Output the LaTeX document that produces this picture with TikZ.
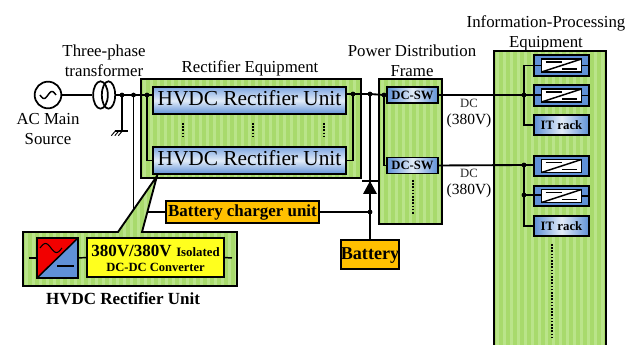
\documentclass[tikz,border=0pt]{standalone}
\usepackage{fontspec}
\usetikzlibrary{shapes.geometric}
\setmainfont{Liberation Serif}
\definecolor{stripeA}{RGB}{168,218,108}
\definecolor{stripeB}{RGB}{186,228,138}
\definecolor{bluemid}{RGB}{96,145,215}
\definecolor{bluetop}{RGB}{125,165,225}
\definecolor{bluepale}{RGB}{226,236,248}
\definecolor{orangebox}{RGB}{255,192,0}
\definecolor{yellowbox}{RGB}{255,255,30}
\newcommand{\lowtext}[2]{\raisebox{#1}[0pt][0pt]{#2}}
\tikzset{
  wire/.style={draw=black,line width=1.4pt},
  thinwire/.style={draw=black,line width=1.1pt},
  edgebox/.style={draw=black,line width=1.4pt,inner sep=0pt,outer sep=0pt,rectangle},
  striped/.style={edgebox,fill=stripeA,path picture={
    \foreach \i in {0,...,60}{
      \fill[stripeB] ([xshift=\i*5.25pt+1.2pt]path picture bounding box.south west) rectangle ++(2.6pt,400pt);
    }}},
  unitbox/.style={edgebox,top color=bluetop,bottom color=bluemid,middle color=bluepale},
  swbox/.style={edgebox,left color=bluemid,right color=bluemid,middle color=bluepale,font=\fontsize{9.5}{11}\selectfont\bfseries},
  orange/.style={edgebox,fill=orangebox,font=\fontsize{12.7}{15}\selectfont\bfseries},
  label/.style={inner sep=0pt,align=center,font=\fontsize{12.6}{15}\selectfont},
  small/.style={inner sep=0pt,font=\fontsize{9.5}{11}\selectfont,text=black!85},
  volt/.style={inner sep=0pt,font=\fontsize{11.6}{13}\selectfont},
  jdot/.style={circle,fill=black,inner sep=0pt,minimum size=3.6pt},
  dotsline/.style={line width=1pt,dash pattern=on 1.2pt off 1.2pt},
}
\newcommand{\convbox}[3]{%
  \node[edgebox,fill=bluemid,minimum width=41.25pt,minimum height=15.4pt] (#1) at (#2,#3) {};
  \node[edgebox,fill=white,minimum width=30pt,minimum height=9.75pt] (#1w) at (#2,#3) {};
  \draw[thinwire] (#1w.south west) -- (#1w.north east);
  \draw[thinwire] ([xshift=3pt,yshift=-2.25pt]#1w.north west) -- ++(12pt,0);
  \draw[thinwire] ([xshift=-3.75pt,yshift=2.25pt]#1w.south east) -- ++(-11pt,0);
}
\begin{document}
\begin{tikzpicture}[x=0.75pt,y=-0.75pt]
\useasboundingbox (0,0) rectangle (638,345);
% containers
\node[striped,minimum width=165pt,minimum height=74.25pt] (rect) at (251,128.5) {};
\node[striped,minimum width=47.25pt,minimum height=108.75pt] (frame) at (410.5,151.5) {};
\node[striped,minimum width=84pt,minimum height=224.25pt] (itbox) at (550,200.5) {};
% source side
\node[draw=black,line width=1.3pt,circle,inner sep=0pt,minimum size=20pt] (ac) at (48,95) {};
\draw[line width=1.1pt,domain=-8:8,samples=30,smooth] plot[shift={(ac.center)}] (\x,{-3.5*sin(\x*22.5)});
\node[draw=black,line width=1.3pt,ellipse,inner sep=0pt,minimum width=11pt,minimum height=20.5pt] (tr1) at (100.5,95) {};
\node[draw=black,line width=1.3pt,ellipse,inner sep=0pt,minimum width=10pt,minimum height=20.5pt] (tr2) at (108.5,95) {};
\draw[wire] (ac.east) -- (tr1.west);
\node[jdot] (j1) at (122,95) {};
\node[jdot] (j2) at (133.5,95) {};
\node[jdot] (j3) at (147,95) {};
\coordinate (gnd) at (122,131);
\draw[wire] (tr2.east) -- (j1.center) -- (j2.center) -- (j3.center);
\draw[wire] (j1.center) -- (gnd);
\draw[thinwire] ([xshift=-5.5pt]gnd) -- ([xshift=4.5pt]gnd);
\foreach \d in {0,3.5,7}{
  \draw[line width=0.7pt] ([xshift=\d*0.75pt-5pt]gnd) -- ++(-3pt,-3.5pt);
}
% charger
\node[orange,minimum width=114.75pt,minimum height=16.5pt] (chg) at (242.5,212) {\lowtext{-3.5pt}{Battery charger unit}};
\draw[wire] (j2.center) |- (chg.west);
% callout
\coordinate (cA) at (23,232);
\coordinate (cB) at (118,232);
\coordinate (cC) at (157,176);
\coordinate (cD) at (142,232);
\coordinate (cE) at (237,232);
\coordinate (cF) at (237,286);
\coordinate (cG) at (23,286);
\path[striped] (cA) -- (cB) -- (cC) -- (cD) -- (cE) -- (cF) -- (cG) -- cycle;
% rectifier units
\node[unitbox,minimum width=144.75pt,minimum height=20.25pt,font=\fontsize{16}{18}\selectfont] (u1) at (249.5,100.5) {\lowtext{-4.1pt}{HVDC Rectifier Unit}};
\node[unitbox,minimum width=144.75pt,minimum height=20.25pt,font=\fontsize{16}{18}\selectfont] (u2) at (249.5,160.5) {\lowtext{-4.1pt}{HVDC Rectifier Unit}};
\foreach \x in {183,253,324}{
  \draw[dotsline] (\x,123) -- (\x,138);
}
\draw[wire] (j3.center) -- (u1.west |- j3);
\draw[wire] (j3.center) |- (u2.west);
\node[jdot] (j4) at (353,94) {};
\node[jdot] (j5) at (370,94) {};
\draw[wire] (u2.east) -| (j4.center);
\draw[wire] (u1.east |- j4) -- (j4.center) -- (j5.center);
% distribution frame
\node[swbox,minimum width=38.25pt,minimum height=12pt] (sw1) at (412.5,95) {DC-SW};
\node[swbox,minimum width=38.25pt,minimum height=12pt] (sw2) at (412.5,165.5) {DC-SW};
\node[jdot] (j6) at (384,95) {};
\draw[wire] (j5.center) -- (j6.center) -- (sw1.west);
\draw[wire] (j6.center) |- (sw2.west);
\draw[dotsline] (413,180) -- (413,215);
% diode and battery
\node[orange,minimum width=42pt,minimum height=21.75pt,font=\fontsize{13.6}{16}\selectfont\bfseries] (bat) at (370,254.5) {\lowtext{-3.4pt}{Battery}};
\coordinate (dtop) at (370,181);
\node[jdot] (j7) at (370,212) {};
\draw[thinwire] (j5.center) -- (dtop);
\draw[wire] (dtop) -- (bat.north);
\draw[wire] (chg.east) -- (j7.center);
\fill (dtop) -- (363,194) -- (377,194) -- cycle;
\draw[wire] (362,181) -- (378,181);
% IT equipment
\convbox{c1}{561.5}{65.5}
\convbox{c2}{561.5}{95.5}
\node[swbox,minimum width=41.25pt,minimum height=15pt] (r1) at (561.5,125) {\fontsize{9.6}{11}\selectfont IT rack};
\convbox{c3}{561.5}{166}
\convbox{c4}{561.5}{196}
\node[swbox,minimum width=41.25pt,minimum height=15pt] (r2) at (561.5,226) {\fontsize{9.6}{11}\selectfont IT rack};
\node[jdot] (j8) at (524,95) {};
\node[jdot] (j9) at (524,165) {};
\node[jdot] (j10) at (524,195) {};
\draw[wire] (sw1.east) -- (j8.center);
\draw[wire] (sw2.east) -- (j9.center);
\draw[wire] (j8.center) -- (c2w.west |- j8);
\draw[wire] (j9.center) -- (c3.west |- j9);
\draw[wire] (j10.center) -- (c4w.west |- j10);
\draw[wire] (c1w.west) -| (j8.center);
\draw[wire] (j8.center) |- (r1.west);
\draw[wire] (j9.center) |- (r2.west);
\draw[wire] (c1w.east) -- ++(4.5pt,0);
\draw[wire] (c2w.east) -- ++(4.5pt,0);
\draw[wire] (c4w.east) -- ++(4.5pt,0);
\draw[dotsline] (552,244) -- (552,337);
% callout contents
\node[edgebox,minimum width=30.75pt,minimum height=30pt] (conv) at (57.5,258) {};
\fill[red!95!black] (conv.south west) -- (conv.north west) -- (conv.north east) -- cycle;
\fill[bluemid] (conv.south west) -- (conv.south east) -- (conv.north east) -- cycle;
\draw[line width=1.4pt] (conv.south west) rectangle (conv.north east);
\draw[thinwire] (conv.south west) -- (conv.north east);
\draw[line width=0.8pt,domain=0:22,samples=30,smooth] plot[shift={(40,248)}] (\x,{-4.5*sin(\x*16.4)});
\draw[thinwire] (57,266) -- (74,266);
\node[edgebox,fill=yellowbox,minimum width=102.75pt,minimum height=29.25pt] (dcdc) at (155.5,257.5) {};
\node[inner sep=0pt,anchor=base west] (t1) at (91,256) {\fontsize{12.75}{15}\selectfont\bfseries 380V/380V};
\node[inner sep=0pt,anchor=base west] (t2) at (176,256) {\fontsize{9.6}{11}\selectfont\bfseries Isolated};
\node[inner sep=0pt] (t3) at (155.5,267.5) {\fontsize{9.4}{10}\selectfont\bfseries DC-DC Converter};
\coordinate (sL) at (29,258);
\coordinate (sR) at (232,258);
\draw[thinwire] (sL) -- (conv.west);
\draw[thinwire] (conv.east) -- (dcdc.west);
\draw[thinwire] (dcdc.east) -- (sR);
% labels
\node[label] (lac) at (48,129.5) {AC Main\\Source};
\node[label] (ltr) at (104,61) {Three-phase\\transformer};
\node[label] (lre) at (250,68) {Rectifier Equipment};
\node[label] (lpd) at (412,60.5) {Power Distribution\\Frame};
\node[label] (lit) at (546,33) {Information-Processing\\Equipment};
\node[small] (d1) at (469,103) {DC};
\node[volt] (v1) at (469,121) {(380V)};
\node[small] (d2) at (469,173) {DC};
\node[volt] (v2) at (469,191) {(380V)};
\node[inner sep=0pt,font=\fontsize{12.75}{15}\selectfont\bfseries] (lh) at (123,299) {HVDC Rectifier Unit};
\end{tikzpicture}
\end{document}
